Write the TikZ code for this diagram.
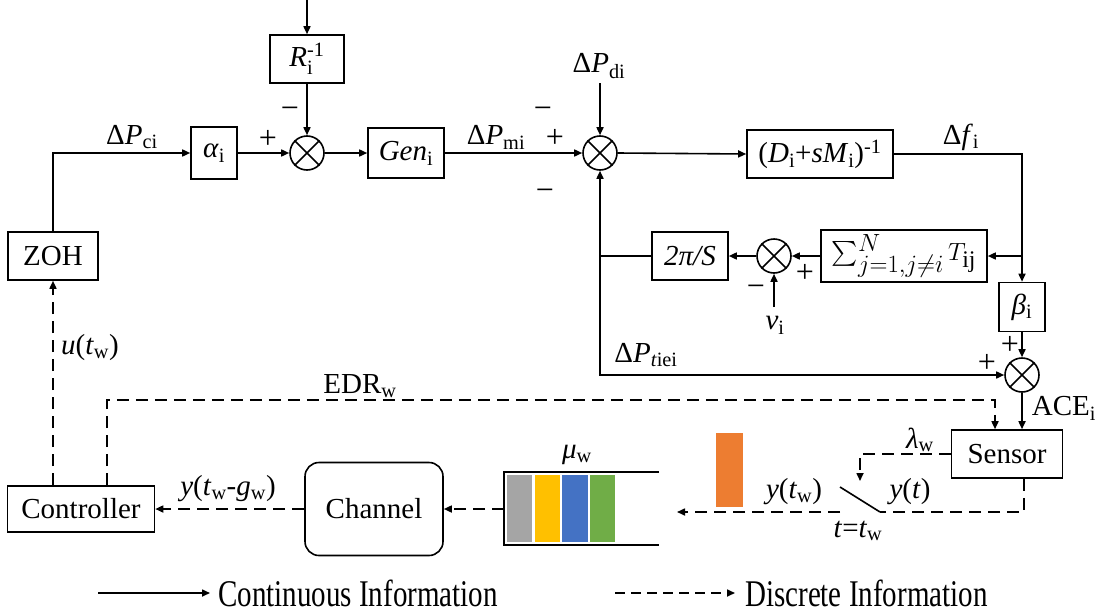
\documentclass[tikz,border=0pt]{standalone}
\usepackage{amsmath}
\usepackage{fontspec}
\setmainfont{Liberation Serif}
\newfontfamily\diagfont{Liberation Serif}
\usetikzlibrary{arrows.meta,calc}
\definecolor{qgray}{HTML}{A5A5A5}
\definecolor{qyellow}{HTML}{FFC000}
\definecolor{qblue}{HTML}{4472C4}
\definecolor{qgreen}{HTML}{70AD47}
\definecolor{qorange}{HTML}{ED7D31}
\newcommand\summer[2]{%
  \node[sumnode] (#1) at (#2) {};
  \draw[ln] (#1.north east) -- (#1.south west) (#1.north west) -- (#1.south east);}
\newcommand\sbs[1]{\textsubscript{#1}}
\newcommand\sps[1]{\textsuperscript{#1}}
\begin{document}
\begin{tikzpicture}[x=1pt,y=-1pt,
  every node/.style={font=\diagfont\fontsize{29}{34}\selectfont},
  box/.style={draw, line width=1.6pt, inner sep=0pt, align=center},
  sumnode/.style={draw, circle, line width=1.6pt, minimum size=34pt, inner sep=0pt},
  ln/.style={line width=1.6pt},
  con/.style={line width=1.6pt, -{Triangle[length=8pt,width=7pt]}},
  dd/.style={line width=1.6pt, dash pattern=on 12pt off 7pt},
  ddcon/.style={dd, -{Triangle[length=8pt,width=7pt]}},
  sgn/.style={font=\diagfont\fontsize{32}{36}\selectfont, inner sep=0pt},
  lbl/.style={inner sep=0pt}]
\useasboundingbox (0,0) rectangle (1102,613);

% ---- blocks of the forward path ----
\node[box, minimum width=74pt, minimum height=48pt] (R) at (307,59) {\textit{R}$_{\textrm{i}}^{\textrm{-1}}$};
\node[box, minimum width=46pt, minimum height=52pt] (alpha) at (214,153) {\textit{α}\sbs{i}};
\node[box, minimum width=76pt, minimum height=50pt] (gen) at (406,153) {\textit{Gen}\sbs{i}};
\node[box, minimum width=146pt, minimum height=48pt] (D) at (820,154) {(\textit{D}\sbs{i}+\textit{sM}\sbs{i})\sps{-1}};
\node[box, minimum width=166pt, minimum height=52pt, font=\diagfont\fontsize{34}{40}\selectfont] (T) at (904,256) {$\sum_{j=1,j\neq i}^{N} T_{\textrm{ij}}$};
\node[box, minimum width=76pt, minimum height=48pt] (pi) at (690,256) {\textit{2π/S}};
\node[box, minimum width=46pt, minimum height=49pt] (beta) at (1022,307) {\textit{β}\sbs{i}};
\node[box, minimum width=111pt, minimum height=48pt] (sensor) at (1007,454) {Sensor};
\node[box, minimum width=90pt, minimum height=48pt] (zoh) at (53,256) {ZOH};
\node[box, minimum width=147pt, minimum height=46pt] (ctrl) at (81,509) {Controller};
\node[box, rounded corners=14pt, minimum width=138pt, minimum height=93pt] (chan) at (374,509) {Channel};

\summer{s1}{307,153}
\summer{s2}{600,153}
\summer{s3}{774,256}
\summer{s4}{1022,375}

% ---- free ends ----
\coordinate (rin) at (307,0);
\coordinate (pdi) at (600,83);
\coordinate (vin) at (774,307);
\coordinate (edr) at (995,400);
\coordinate (lam) at (860,481);
\coordinate (swa) at (840,487);
\coordinate (swb) at (880,512);
\coordinate (qend) at (677,512);
\coordinate (qleft) at (504,509);

% ---- continuous signals ----
\draw[con] (rin) -- (R.north);
\draw[con] (R.south) -- (s1.north);
\draw[con] (zoh.north) |- (alpha.west);
\draw[con] (alpha.east) -- (s1.west);
\draw[con] (s1.east) -- (gen.west);
\draw[con] (gen.east) -- (s2.west);
\draw[con] (pdi) -- (s2.north);
\draw[con] (s2.east) -- (D.west);
\draw[con] (D.east) -| (beta.north);
\draw[con] (beta.north |- T.east) -- (T.east);
\draw[con] (T.west) -- (s3.east);
\draw[con] (s3.west) -- (pi.east);
\draw[con] (vin) -- (s3.south);
\draw[con] (pi.west) -| (s2.south);
\draw[con] (s2.south |- pi.west) |- (s4.west);
\draw[con] (beta.south) -- (s4.north);
\draw[con] (s4.south) -- (s4.south |- sensor.north);

% ---- discrete signals ----
\draw[ddcon] (zoh.south |- ctrl.north) -- (zoh.south);
\draw[ddcon] ([xshift=26pt]ctrl.north) |- (edr) -- (edr |- sensor.north);
\draw[ddcon] (sensor.west) -| (lam);
\draw[ln] (swa) -- (swb);
\draw[dd] ([xshift=17pt]sensor.south) |- (swb);
\draw[ddcon] (swa |- swb) -- (qend);
\draw[ddcon] (qleft) -- (chan.east |- qleft);
\draw[ddcon] (chan.west) -- (ctrl.east);

% ---- buffer queue and packet ----
\draw[ln] (659,472) -- (504,472) -- (504,545) -- (659,545);
\fill[qgray]   (507,475) rectangle (532,542);
\fill[qyellow] (535,475) rectangle (560,542);
\fill[qblue]   (562,475) rectangle (588,542);
\fill[qgreen]  (590,475) rectangle (615,542);
\fill[qorange] (716,433) rectangle (743,507);

% ---- signal labels ----
\node[lbl] at (132,137) {Δ\textit{P}\sbs{ci}};
\node[lbl] at (496,137) {Δ\textit{P}\sbs{mi}};
\node[lbl] at (599,66) {Δ\textit{P}\sbs{di}};
\node[lbl] at (961,137) {Δ\textit{f}\sbs{i}};
\node[lbl] at (775,325) {\textit{v}\sbs{i}};
\node[lbl] at (646,355) {Δ\textit{P}\sbs{\textit{t}iei}};
\node[lbl] at (1064,408) {ACE\sbs{i}};
\node[lbl] at (360,386) {EDR\sbs{w}};
\node[lbl] at (920,440) {\textit{λ}\sbs{w}};
\node[lbl] at (910,492) {\textit{y}(\textit{t})};
\node[lbl] at (794,492) {\textit{y}(\textit{t}\sbs{w})};
\node[lbl] at (858,531) {\textit{t}=\textit{t}\sbs{w}};
\node[lbl] at (577,455) {\textit{μ}\sbs{w}};
\node[lbl] at (228,489) {\textit{y}(\textit{t}\sbs{w}-\textit{g}\sbs{w})};
\node[lbl] at (90,348) {\textit{u}(\textit{t}\sbs{w})};

% ---- signs at the summing junctions ----
\node[sgn] at (268,139) {+};
\node[sgn] at (290,113) {−};
\node[sgn] at (555,138) {+};
\node[sgn] at (543,113) {−};
\node[sgn] at (545,195) {−};
\node[sgn] at (805,273) {+};
\node[sgn] at (756,291) {−};
\node[sgn] at (1010,345) {+};
\node[sgn] at (987,363) {+};

% ---- legend ----
\coordinate (la) at (98,593);
\coordinate (lb) at (210,593);
\coordinate (lc) at (615,593);
\coordinate (ld) at (735,593);
\draw[con] (la) -- (lb);
\node[lbl, anchor=west] at (218,593) {\scalebox{1}[1.3]{Continuous Information}};
\draw[line width=1.6pt, dash pattern=on 10pt off 6pt, -{Triangle[length=8pt,width=7pt]}] (lc) -- (ld);
\node[lbl, anchor=west] at (745,593) {\scalebox{1}[1.3]{Discrete Information}};
\end{tikzpicture}
\end{document}
